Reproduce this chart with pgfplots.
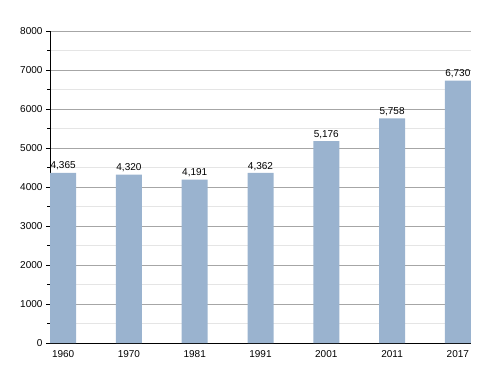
\documentclass[border=0pt]{standalone}
\usepackage{pgfplots}
\pgfplotsset{compat=1.18}
\usepackage{fontspec}
\setmainfont{Liberation Sans}
\definecolor{barblue}{HTML}{9AB3CF}
\begin{document}
\begin{tikzpicture}[x=1pt,y=1pt]
\useasboundingbox (0,0) rectangle (500,373);
\begin{axis}[
  at={(50pt,30pt)}, anchor=south west,
  scale only axis, width=421pt, height=312pt,
  xmin=-0.2, xmax=6.2, ymin=0, ymax=8000,
  axis x line=bottom, axis y line=left,
  axis line style={black, line width=0.8pt, -},
  xtick=data, xticklabels={1960,1970,1981,1991,2001,2011,2017},
  x tick style={draw=none},
  ytick={0,1000,...,8000}, minor ytick={500,1500,...,7500},
  y tick style={black, line width=0.6pt},
  tick align=outside, major tick length=4pt, minor tick length=3pt,
  ymajorgrids, yminorgrids,
  major grid style={color=black!35, line width=0.6pt},
  minor grid style={color=black!10, line width=0.6pt},
  scaled y ticks=false,
  /pgf/number format/assume math mode=true,
  yticklabel style={/pgf/number format/1000 sep={}, font=\fontsize{10}{12}\selectfont},
  xticklabel style={font=\fontsize{10}{12}\selectfont},
  ybar, bar width=26pt,
  nodes near coords,
  every node near coord/.append style={font=\fontsize{10}{12}\selectfont, /pgf/number format/1000 sep={,}, yshift=-1pt},
  axis on top=false,
]
\addplot[fill=barblue, draw=none] coordinates {(0,4365) (1,4320) (2,4191) (3,4362) (4,5176) (5,5758) (6,6730)};
\end{axis}
\end{tikzpicture}
\end{document}
